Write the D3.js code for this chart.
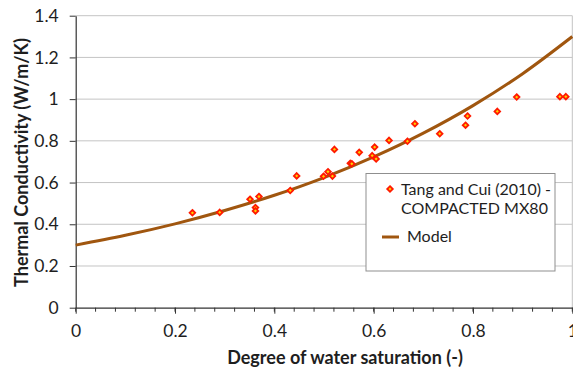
<!DOCTYPE html>
<html>
<head>
<meta charset="utf-8">
<script src="https://cdn.jsdelivr.net/npm/d3@7"></script>
<style>
  html, body { margin: 0; padding: 0; background: #fff; }
  svg { display: block; font-family: Lato, "Open Sans", sans-serif; }
</style>
</head>
<body>
<svg id="chart" width="573" height="372"></svg>
<script>
// Measured data: Tang and Cui (2010) - COMPACTED MX80
const satData = [0.235, 0.29, 0.351, 0.369, 0.362, 0.362, 0.432, 0.445, 0.499, 0.508, 0.517, 0.521, 0.553, 0.556, 0.571, 0.597, 0.602, 0.605, 0.631, 0.668, 0.683, 0.733, 0.785, 0.789, 0.849, 0.888, 0.975, 0.987];
const condData = [0.455, 0.457, 0.520, 0.533, 0.480, 0.464, 0.562, 0.632, 0.630, 0.652, 0.631, 0.759, 0.692, 0.690, 0.745, 0.729, 0.770, 0.713, 0.802, 0.798, 0.882, 0.834, 0.875, 0.919, 0.941, 1.010, 1.012, 1.012];
// Model curve
const modelSat = [0, 0.1, 0.2, 0.3, 0.4, 0.5, 0.6, 0.7, 0.8, 0.9, 1.0];
const modelCond = [0.30, 0.347, 0.402, 0.466, 0.539, 0.624, 0.723, 0.837, 0.969, 1.122, 1.30];
const yTicks = [0, 0.2, 0.4, 0.6, 0.8, 1, 1.2, 1.4];
const xTicks = [0, 0.2, 0.4, 0.6, 0.8, 1];
const xMinorTicks = d3.range(0, 26).map(i => i * 0.04);
const seriesNames = ["Tang and Cui (2010) -", "COMPACTED MX80", "Model"];
const xTitle = "Degree of water saturation (-)";
const yTitle = "Thermal Conductivity (W/m/K)";

(function () {
const svg = d3.select("#chart");
const pL = 75.7, pR = 572.3, pT = 15.7, pB = 307.7;
const x = d3.scaleLinear().domain([0, 1]).range([pL, pR]);
const y = d3.scaleLinear().domain([0, 1.4]).range([pB, pT]);
const txt = "#1e1e1e";

// gridlines
svg.append("g").selectAll("line").data(yTicks.filter(d => d > 0)).join("line")
  .attr("x1", pL).attr("x2", pR)
  .attr("y1", d => y(d)).attr("y2", d => y(d))
  .attr("stroke", "#c4c4c4").attr("stroke-width", 1);
// right border
svg.append("line").attr("x1", pR).attr("x2", pR).attr("y1", pT).attr("y2", pB)
  .attr("stroke", "#c4c4c4");

// y axis
const yAxis = svg.append("g").attr("transform", `translate(${pL},0)`)
  .call(d3.axisLeft(y).tickValues(yTicks).tickFormat(d3.format("")).tickSize(6).tickSizeOuter(0));
yAxis.select(".domain").attr("stroke", "#333").attr("stroke-width", 1.2);
yAxis.selectAll(".tick line").attr("stroke", "#333");
yAxis.selectAll(".tick text").attr("font-size", 17.5).attr("fill", txt).attr("x", -17)
  .attr("font-family", "Lato, sans-serif");

// x axis minor ticks
svg.append("g").selectAll("line").data(xMinorTicks).join("line")
  .attr("x1", d => x(d)).attr("x2", d => x(d))
  .attr("y1", pB).attr("y2", pB + 4)
  .attr("stroke", "#333");
const xAxis = svg.append("g").attr("transform", `translate(0,${pB})`)
  .call(d3.axisBottom(x).tickValues(xTicks).tickFormat(d3.format("")).tickSize(6).tickSizeOuter(0));
xAxis.select(".domain").attr("stroke", "#333").attr("stroke-width", 1.2);
xAxis.selectAll(".tick line").attr("stroke", "#333");
xAxis.selectAll(".tick text").attr("font-size", 17.5).attr("fill", txt).attr("y", 17)
  .attr("font-family", "Lato, sans-serif");

// model line
const line = d3.line().x((d, i) => x(modelSat[i])).y(d => y(d)).curve(d3.curveMonotoneX);
svg.append("path").datum(modelCond).attr("d", line)
  .attr("fill", "none").attr("stroke", "#a0560f").attr("stroke-width", 3);

// data points
const diamond = d3.symbol().type(d3.symbolDiamond2).size(20);
svg.append("g").selectAll("path").data(satData).join("path")
  .attr("transform", (d, i) => `translate(${x(d)},${y(condData[i])})`)
  .attr("d", diamond)
  .attr("fill", "#ffd000").attr("stroke", "#ff1a00").attr("stroke-width", 1.8);

// legend
const lg = svg.append("g");
lg.append("rect").attr("x", 366).attr("y", 173.5).attr("width", 189).attr("height", 97.5)
  .attr("fill", "#fff").attr("stroke", "#8f8f8f").attr("stroke-width", 1);
lg.append("path").attr("transform", "translate(390,189)").attr("d", diamond)
  .attr("fill", "#ffd000").attr("stroke", "#ff1a00").attr("stroke-width", 1.8);
lg.append("text").attr("x", 401).attr("y", 194.5).attr("font-size", 16).attr("fill", txt).text(seriesNames[0]);
lg.append("text").attr("x", 401).attr("y", 214).attr("font-size", 16).attr("fill", txt).text(seriesNames[1]);
lg.append("line").attr("x1", 382).attr("x2", 399).attr("y1", 237).attr("y2", 237)
  .attr("stroke", "#a0560f").attr("stroke-width", 3);
lg.append("text").attr("x", 407).attr("y", 242).attr("font-size", 16).attr("fill", txt).text(seriesNames[2]);

// titles
svg.append("text").attr("x", 345).attr("y", 364).attr("text-anchor", "middle")
  .attr("font-size", 18).attr("font-weight", "bold").attr("fill", txt).text(xTitle);
svg.append("text").attr("transform", "translate(27.5,162.5) rotate(-90)").attr("text-anchor", "middle")
  .attr("font-size", 18).attr("font-weight", "bold").attr("fill", txt).text(yTitle);
})();
</script>
</body>
</html>
